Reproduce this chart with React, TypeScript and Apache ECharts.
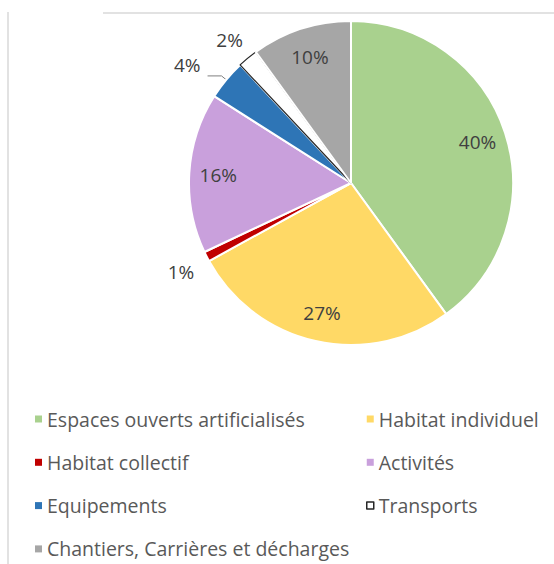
import React, { useEffect, useRef } from "react";
import * as echarts from "echarts";

const categories = [
  "Espaces ouverts artificialisés",
  "Habitat individuel",
  "Habitat collectif",
  "Activités",
  "Equipements",
  "Transports",
  "Chantiers, Carrières et décharges",
];
const values = [40, 27, 1, 16, 4, 2, 10];
const colors = ["#A9D18E", "#FFD966", "#C00000", "#C9A0DC", "#2E75B6", "#FFFFFF", "#A6A6A6"];
const outsideLabels = ["Habitat collectif", "Equipements", "Transports"];
const legendCol1 = ["Espaces ouverts artificialisés", "Habitat collectif", "Equipements", "Chantiers, Carrières et décharges"];
const legendCol2 = ["Habitat individuel", "Activités", "Transports"];
// small nudges for outside labels (Excel-like placement)
const labelNudge: Record<string, [number, number]> = {
  "Habitat collectif": [10, 13],
  Equipements: [-4, -11],
  Transports: [16, -14],
};

const FONT = "'Open Sans', sans-serif";

export default function App() {
  const ref = useRef<HTMLDivElement>(null);
  useEffect(() => {
    if (!ref.current) return;
    const chart = echarts.init(ref.current, null, { renderer: "svg" });
    const center = [351, 183];
    const R = 162;

    const legendItem = (name: string) => {
      const i = categories.indexOf(name);
      if (name === "Transports") {
        return { name, itemStyle: { color: "#FFFFFF", borderColor: "#262626", borderWidth: 1.5 } };
      }
      return { name, itemStyle: { color: colors[i], borderWidth: 0 } };
    };
    const legendBase = {
      orient: "vertical",
      top: 408,
      padding: 0,
      height: 160,
      itemWidth: 7,
      itemHeight: 7,
      itemGap: 21.3,
      icon: "rect",
      selectedMode: false,
      textStyle: { fontSize: 19.5, color: "#595959", fontFamily: FONT, lineHeight: 22 },
    };

    chart.setOption({
      animation: false,
      backgroundColor: "#FFFFFF",
      legend: [
        { ...legendBase, left: 35, data: legendCol1.map(legendItem) },
        { ...legendBase, left: 366, data: legendCol2.map(legendItem) },
      ],
      graphic: [
        { type: "line", shape: { x1: 103, y1: 13, x2: 554, y2: 13 }, style: { stroke: "#D9D9D9", lineWidth: 1.5 } },
        { type: "line", shape: { x1: 8, y1: 12, x2: 8, y2: 564 }, style: { stroke: "#D9D9D9", lineWidth: 1.5 } },
      ],
      series: [
        {
          type: "pie",
          center,
          radius: [0, R],
          startAngle: 90,
          clockwise: true,
          silent: true,
          label: { show: false },
          labelLine: { show: false },
          data: categories.map((name, i) => ({
            name,
            value: values[i],
            itemStyle:
              name === "Transports"
                ? { color: "#FFFFFF", borderColor: "#262626", borderWidth: 1.2 }
                : { color: colors[i], borderColor: "#FFFFFF", borderWidth: 2 },
          })),
        },
        {
          type: "pie",
          center,
          radius: [98, R],
          startAngle: 90,
          clockwise: true,
          silent: true,
          itemStyle: { color: "rgba(0,0,0,0)", borderWidth: 0 },
          label: {
            show: true,
            position: "inside",
            formatter: "{c}%",
            fontSize: 19,
            color: "#404040",
            fontFamily: FONT,
          },
          labelLayout: (p: any) => {
            const name = categories[p.dataIndex];
            const n = labelNudge[name];
            return n ? { dx: n[0], dy: n[1] } : {};
          },
          data: categories.map((name, i) => {
            const out = outsideLabels.includes(name);
            return {
              name,
              value: values[i],
              label: out
                ? { position: "outside", color: "#404040", fontSize: 19, fontFamily: FONT, distanceToLabelLine: 3 }
                : undefined,
              labelLine: out
                ? {
                    show: name === "Equipements",
                    length: 6,
                    length2: 14,
                    lineStyle: { color: "#7F7F7F", width: 1 },
                  }
                : { show: false },
            };
          }),
        },
      ],
    });
    return () => chart.dispose();
  }, []);
  return <div ref={ref} style={{ position: "fixed", left: 0, top: 0, width: 554, height: 564 }} />;
}
